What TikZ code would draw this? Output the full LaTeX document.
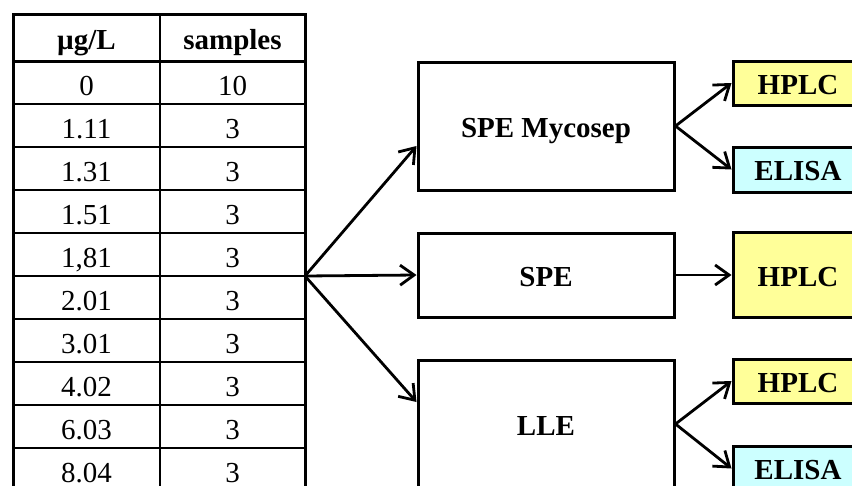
\documentclass[tikz,border=0pt]{standalone}
\usepackage{fontspec}
\setmainfont{Liberation Serif}
\usetikzlibrary{arrows.meta}

\definecolor{hplcfill}{HTML}{FFFF99}
\definecolor{elisafill}{HTML}{CCFFFF}
\newcommand\bigfont{\fontsize{29}{34}\selectfont}

\tikzset{
  cell/.style={anchor=base, inner sep=0pt, font=\bigfont},
  head/.style={cell, font=\bigfont\bfseries},
  prep/.style={draw, line width=3pt, minimum width=256pt, text height=22pt, text depth=0pt, font=\bigfont\bfseries},
  assay/.style={prep, minimum width=130pt},
  flow/.style={->, line width=2.8pt}
}

\begin{document}
\begin{tikzpicture}[x=1pt, y=-1pt, >={Straight Barb[length=14pt,width=20pt]}]
\useasboundingbox (0,0) rectangle (852,485);
\clip (0,0) rectangle (852,485);

% table
\draw[line width=3pt] (13,495) -- (13,14) -- (305,14) -- (305,495);
\draw[line width=3pt] (13,61) -- (305,61);
\draw[line width=2pt] (160,14) -- (160,495);
\foreach \k in {1,...,9}
\draw[line width=2pt] (13, 61+43*\k) -- (305, 61+43*\k);

\node[head] (hconc) at (86.5,49) {µg/L};
\node[head] (hnum) at (232.5,49) {samples};
\foreach \v/\n [count=\k from 0] in {0/10, 1.11/3, 1.31/3, 1.51/3, {1,81}/3, 2.01/3, 3.01/3, 4.02/3, 6.03/3, 8.04/3}
{
\node[cell] (conc\k) at (86.5, 95+43*\k) {\v};
\node[cell] (num\k) at (232.5, 95+43*\k) {\n};
}

% preparation
\node[prep, minimum height=128pt] (myco) at (546,126) {SPE Mycosep};
\node[prep, minimum height=84pt] (spe) at (546,275) {SPE};
\node[prep, minimum height=128pt] (lle) at (546,424) {LLE};

% detection
\node[assay, fill=hplcfill, minimum height=44pt] (hplcA) at (798,83) {HPLC};
\node[assay, fill=elisafill, minimum height=45pt] (elisaA) at (798,169.5) {ELISA};
\node[assay, fill=hplcfill, minimum height=85pt] (hplcB) at (798,275) {HPLC};
\node[assay, fill=hplcfill, minimum height=44pt] (hplcC) at (798,381) {HPLC};
\node[assay, fill=elisafill, minimum height=45pt] (elisaC) at (798,468.5) {ELISA};

\coordinate (fan) at (305,276);
\coordinate (mycoIn) at ([yshift=-20pt]myco.west);
\coordinate (lleIn) at ([yshift=22pt]lle.west);

\draw[flow] (fan) -- (mycoIn);
\draw[flow] (fan) -- (spe.west);
\draw[flow] (fan) -- (lleIn);

\draw[flow] (myco.east) -- (hplcA.west);
\draw[flow] (myco.east) -- (elisaA.west);
\draw[flow] (spe.east) -- (hplcB.west);
\draw[flow] (lle.east) -- (hplcC.west);
\draw[flow] (lle.east) -- (elisaC.west);
\end{tikzpicture}
\end{document}
